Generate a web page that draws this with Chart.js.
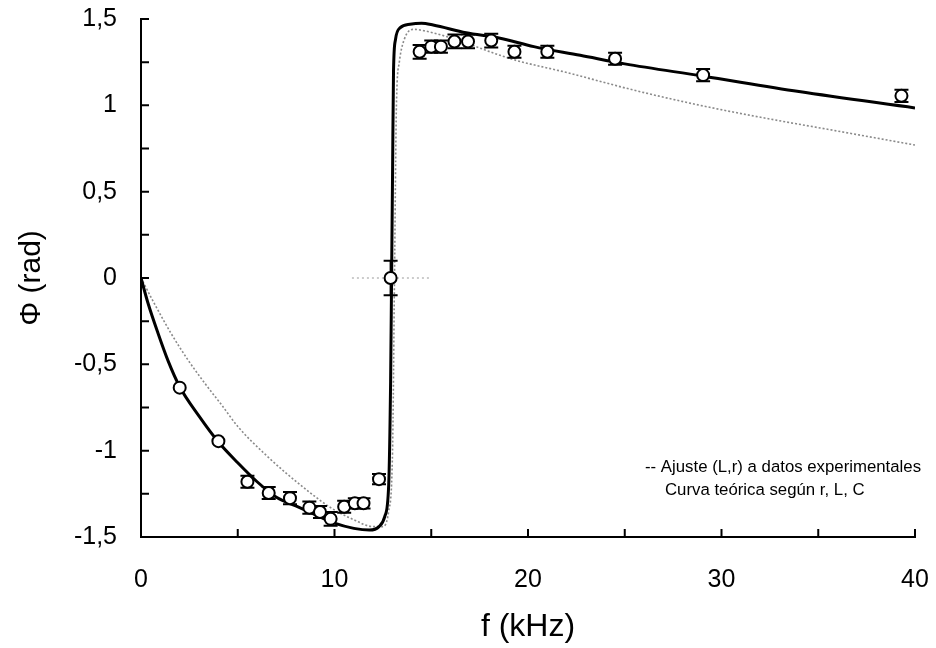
<!DOCTYPE html>
<html><head><meta charset="utf-8">
<script src="https://cdn.jsdelivr.net/npm/chart.js@4"></script>
<style>html,body{margin:0;padding:0;background:#fff}</style>
</head><body>
<canvas id="c" width="936" height="648"></canvas>
<script>
// Experimental points
const expF   = [2.0, 4.0, 5.5, 6.6, 7.7, 8.7, 9.25, 9.8, 10.5, 11.05, 11.5, 12.3, 12.9, 14.4, 15.0, 15.5, 16.2, 16.9, 18.1, 19.3, 21.0, 24.5, 29.05, 39.3];
const expPhi = [-0.635, -0.945, -1.18, -1.245, -1.275, -1.33, -1.355, -1.395, -1.325, -1.305, -1.305, -1.165, 0.0, 1.31, 1.34, 1.34, 1.37, 1.37, 1.375, 1.31, 1.31, 1.27, 1.175, 1.055];
const expErr = [0, 0, 0.035, 0.035, 0.035, 0.035, 0.035, 0.04, 0.035, 0.03, 0.03, 0.03, 0.1, 0.04, 0.035, 0.035, 0.04, 0.04, 0.04, 0.035, 0.035, 0.035, 0.035, 0.035];
const expErrF = [0, 0, 0, 0, 0, 0, 0, 0, 0, 0, 0, 0, 2.0, 0, 0, 0, 0, 0, 0, 0, 0, 0, 0, 0];

// Fit curve (solid)
const fitF   = [0, 0.36, 0.88, 1.4, 2.0, 3.0, 4.0, 5.0, 6.0, 7.0, 8.0, 9.0, 10.0, 11.0, 11.8, 12.3, 12.6, 12.8, 12.9, 12.95, 13.0, 13.05, 13.15, 13.4, 13.9, 14.5, 15.1, 16.8, 18.5, 20.3, 22.7, 25.0, 29.0, 34.0, 40.0];
const fitPhi = [0, -0.145, -0.32, -0.48, -0.63, -0.80, -0.95, -1.07, -1.18, -1.27, -1.32, -1.37, -1.42, -1.45, -1.46, -1.44, -1.38, -1.2, -0.6, 0, 0.6, 1.2, 1.38, 1.45, 1.47, 1.475, 1.465, 1.42, 1.39, 1.34, 1.29, 1.24, 1.17, 1.08, 0.985];

// Theoretical curve (grey dotted)
const theoF   = [0, 0.7, 1.55, 2.4, 3.3, 4.2, 5.0, 6.5, 7.5, 8.7, 9.8, 11.0, 12.0, 12.5, 12.8, 13.0, 13.1, 13.2, 13.35, 13.6, 14.05, 15.1, 16.8, 18.55, 19.4, 22.0, 25.4, 28.9, 32.3, 35.8, 40.0];
const theoPhi = [0, -0.15, -0.32, -0.47, -0.61, -0.74, -0.86, -1.03, -1.13, -1.24, -1.33, -1.40, -1.44, -1.44, -1.35, -1.0, 0, 1.0, 1.25, 1.38, 1.44, 1.42, 1.36, 1.29, 1.26, 1.19, 1.09, 1.00, 0.925, 0.855, 0.77];

const xTickValues = [0, 10, 20, 30, 40];
const yTickValues = [-1.5, -1, -0.5, 0, 0.5, 1, 1.5];
const legendLines = ['-- Ajuste (L,r) a datos experimentales', 'Curva teórica según r, L, C'];

const zip = (a, b) => a.map((v, i) => ({x: v, y: b[i]}));

const extras = {
  id: 'extras',
  beforeDatasetDraw(chart, args) {
    if (args.index !== 0) return;
    const ctx = chart.ctx, xs = chart.scales.x, ys = chart.scales.y;
    ctx.save();
    for (let i = 0; i < expF.length; i++) {
      const px = xs.getPixelForValue(expF[i]);
      if (expErrF[i] > 0) {
        ctx.strokeStyle = '#999'; ctx.lineWidth = 1.2; ctx.setLineDash([2, 3]);
        const py = ys.getPixelForValue(expPhi[i]);
        ctx.beginPath();
        ctx.moveTo(xs.getPixelForValue(expF[i] - expErrF[i]), py);
        ctx.lineTo(xs.getPixelForValue(expF[i] + expErrF[i]), py);
        ctx.stroke();
        ctx.setLineDash([]);
      }
      if (expErr[i] > 0) {
        const y1 = ys.getPixelForValue(expPhi[i] - expErr[i]);
        const y2 = ys.getPixelForValue(expPhi[i] + expErr[i]);
        ctx.strokeStyle = '#000'; ctx.lineWidth = 2;
        ctx.beginPath();
        ctx.moveTo(px, y1); ctx.lineTo(px, y2);
        ctx.moveTo(px - 7, y1); ctx.lineTo(px + 7, y1);
        ctx.moveTo(px - 7, y2); ctx.lineTo(px + 7, y2);
        ctx.stroke();
      }
    }
    ctx.restore();
  },
  afterDraw(chart) {
    const ctx = chart.ctx, xs = chart.scales.x, ys = chart.scales.y;
    const a = chart.chartArea;
    ctx.save();
    ctx.strokeStyle = '#000'; ctx.lineWidth = 2;
    ctx.beginPath();
    for (let v = -1.5; v <= 1.5001; v += 0.25) {
      const py = ys.getPixelForValue(v);
      ctx.moveTo(a.left, py); ctx.lineTo(a.left + 8, py);
    }
    for (let v = 5; v <= 40; v += 5) {
      const px = xs.getPixelForValue(v);
      ctx.moveTo(px, a.bottom); ctx.lineTo(px, a.bottom - 8);
    }
    ctx.stroke();
    ctx.fillStyle = '#000';
    ctx.font = '16.8px "Liberation Sans", Arial, sans-serif';
    ctx.textBaseline = 'middle';
    ctx.textAlign = 'left';
    ctx.fillText(legendLines[0], 645, 467);
    ctx.fillText(legendLines[1], 665, 490);
    ctx.restore();
  }
};

new Chart(document.getElementById('c'), {
  type: 'scatter',
  data: {
    datasets: [
      {
        label: 'Datos',
        data: zip(expF, expPhi),
        showLine: false,
        pointRadius: 6,
        pointBorderWidth: 2,
        pointBorderColor: '#000',
        pointBackgroundColor: '#fff'
      },
      {
        label: 'Ajuste (L,r) a datos experimentales',
        data: zip(fitF, fitPhi),
        showLine: true,
        borderColor: '#000',
        borderWidth: 3,
        pointRadius: 0,
        cubicInterpolationMode: 'monotone'
      },
      {
        label: 'Curva teórica según r, L, C',
        data: zip(theoF, theoPhi),
        showLine: true,
        borderColor: '#8a8a8a',
        borderWidth: 1.6,
        borderDash: [2, 2],
        pointRadius: 0,
        cubicInterpolationMode: 'monotone'
      }
    ]
  },
  options: {
    responsive: false,
    animation: false,
    layout: {padding: {top: 19, right: 21, left: 0, bottom: 0}},
    plugins: {legend: {display: false}, tooltip: {enabled: false}},
    scales: {
      x: {
        type: 'linear', min: 0, max: 40,
        afterBuildTicks: s => { s.ticks = xTickValues.map(v => ({value: v})); },
        afterFit: s => { s.height = 111; s.paddingLeft = 0; s.paddingRight = 0; },
        grid: {display: false},
        border: {display: true, color: '#000', width: 2},
        ticks: {color: '#000', font: {family: '"Liberation Sans", Arial, sans-serif', size: 25}, padding: 20, callback: v => String(v)},
        title: {display: true, text: 'f (kHz)', color: '#000', font: {family: '"Liberation Sans", Arial, sans-serif', size: 32}, padding: {top: 0, bottom: 2}}
      },
      y: {
        type: 'linear', min: -1.5, max: 1.5,
        afterBuildTicks: s => { s.ticks = yTickValues.map(v => ({value: v})); },
        afterFit: s => { s.width = 141; s.paddingTop = 0; s.paddingBottom = 0; },
        grid: {display: false},
        border: {display: true, color: '#000', width: 2},
        ticks: {color: '#000', font: {family: '"Liberation Sans", Arial, sans-serif', size: 25}, padding: 16, callback: v => String(v).replace('.', ',')},
        title: {display: true, text: 'Φ (rad)', color: '#000', font: {family: '"Liberation Sans", Arial, sans-serif', size: 30}, padding: {top: 14, bottom: 0}}
      }
    }
  },
  plugins: [extras]
});
</script>
</body></html>
